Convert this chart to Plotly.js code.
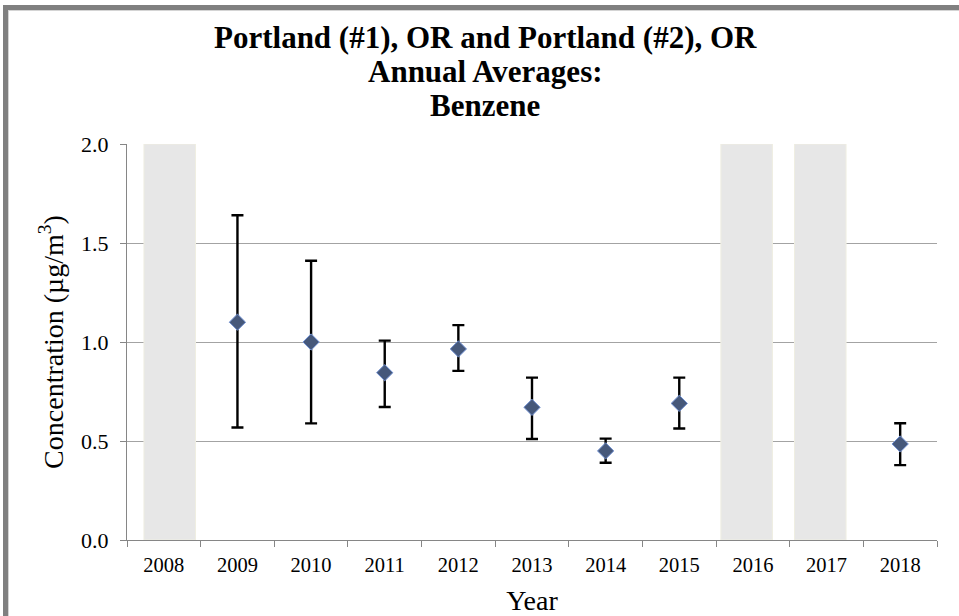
<!DOCTYPE html>
<html>
<head>
<meta charset="utf-8">
<script src="https://cdn.plot.ly/plotly-3.0.1.min.js"></script>
<style>
  html, body { margin: 0; padding: 0; background: #fff; }
  #wrap { position: relative; width: 959px; height: 616px; overflow: hidden; }
  #chart { position: absolute; left: 0; top: 0; width: 959px; height: 616px; }
  #frame { position: absolute; left: 3px; top: 5px; width: 980px; height: 640px;
           border-top: 5px solid #808080; border-left: 5px solid #808080;
           box-shadow: inset 1px 1px 0 #d4d4d4;
           pointer-events: none; }
</style>
</head>
<body>
<div id="wrap">
  <div id="chart"></div>
  <div id="frame"></div>
</div>
<script>
// Categories (x axis)
const years = ['2008','2009','2010','2011','2012','2013','2014','2015','2016','2017','2018'];
// Years with annual averages
const dataYears = ['2009','2010','2011','2012','2013','2014','2015','2018'];
const annualAvg = [1.10, 1.00, 0.845, 0.965, 0.67, 0.45, 0.69, 0.485];
const ciUpper   = [1.64, 1.41, 1.007, 1.085, 0.82, 0.512, 0.82, 0.59];
const ciLower   = [0.568, 0.589, 0.672, 0.854, 0.51, 0.39, 0.563, 0.378];
// Years without data (shaded)
const noDataYears = ['2008','2016','2017'];
const noDataHeight = [2.0, 2.0, 2.0];
// Y tick labels
const yTickVals = [0, 0.5, 1.0, 1.5, 2.0];
const yTickText = ['0.0','0.5','1.0','1.5','2.0'];
// Title lines
const titleLines = ['Portland (#1), OR and Portland (#2), OR', 'Annual Averages:', 'Benzene'];

const errPlus = annualAvg.map((v, i) => ciUpper[i] - v);
const errMinus = annualAvg.map((v, i) => v - ciLower[i]);

const serif = 'Liberation Serif';

const shade = {
  type: 'bar',
  x: noDataYears,
  y: noDataHeight,
  width: 0.70,
  offset: [-0.27, -0.435, -0.435],
  marker: { color: '#e7e7e7', line: { color: '#efeee2', width: 1 } },
  hoverinfo: 'skip',
  showlegend: false
};

const pts = {
  type: 'scatter',
  mode: 'markers',
  x: dataYears,
  y: annualAvg,
  marker: { symbol: 'diamond', size: 12.5, color: '#46587a', line: { color: '#6e8ed0', width: 1 } },
  error_y: { type: 'data', symmetric: false, array: errPlus, arrayminus: errMinus,
             color: '#000000', thickness: 2.4, width: 6 },
  showlegend: false
};

// title line centres (container px) converted to paper coords of the 396px-high plot area
const titleY = [37, 72, 106].map(py => (540 - py) / 396);
const annotations = titleLines.map((t, i) => ({
  text: '<b>' + t + '</b>', xref: 'paper', yref: 'paper', x: (485 - 127) / 810, y: titleY[i],
  xanchor: 'center', yanchor: 'middle', showarrow: false,
  font: { family: serif, size: 31, color: '#000000' }
}));

const layout = {
  width: 959, height: 616,
  margin: { l: 127, r: 22, t: 144, b: 76 },
  paper_bgcolor: '#ffffff', plot_bgcolor: '#ffffff',
  font: { family: serif },
  showlegend: false,
  annotations: annotations,
  xaxis: {
    type: 'category', categoryorder: 'array', categoryarray: years,
    range: [-0.5, 10.5],
    tickson: 'boundaries', ticks: 'outside', ticklen: 6, tickcolor: '#868686', tickwidth: 1,
    showline: true, linecolor: '#868686', linewidth: 1,
    showgrid: false, zeroline: false,
    tickfont: { family: serif, size: 20.5, color: '#000000' },
    ticklabelstandoff: 6,
    title: { text: 'Year', font: { family: serif, size: 28, color: '#000000' }, standoff: 15 }
  },
  yaxis: {
    range: [0, 2.0], tickvals: yTickVals, ticktext: yTickText,
    ticks: 'outside', ticklen: 6, tickcolor: '#868686', tickwidth: 1,
    showline: true, linecolor: '#868686', linewidth: 1,
    showgrid: true, gridcolor: '#a3a3a3', gridwidth: 1, zeroline: false,
    tickfont: { family: serif, size: 22, color: '#000000' },
    ticklabelstandoff: 7,
    title: { text: 'Concentration (µg/m<sup>3</sup>)', font: { family: serif, size: 28, color: '#000000' }, standoff: 9 }
  },
  bargap: 0.3
};

Plotly.newPlot('chart', [shade, pts], layout, { displayModeBar: false, staticPlot: true });
</script>
</body>
</html>
